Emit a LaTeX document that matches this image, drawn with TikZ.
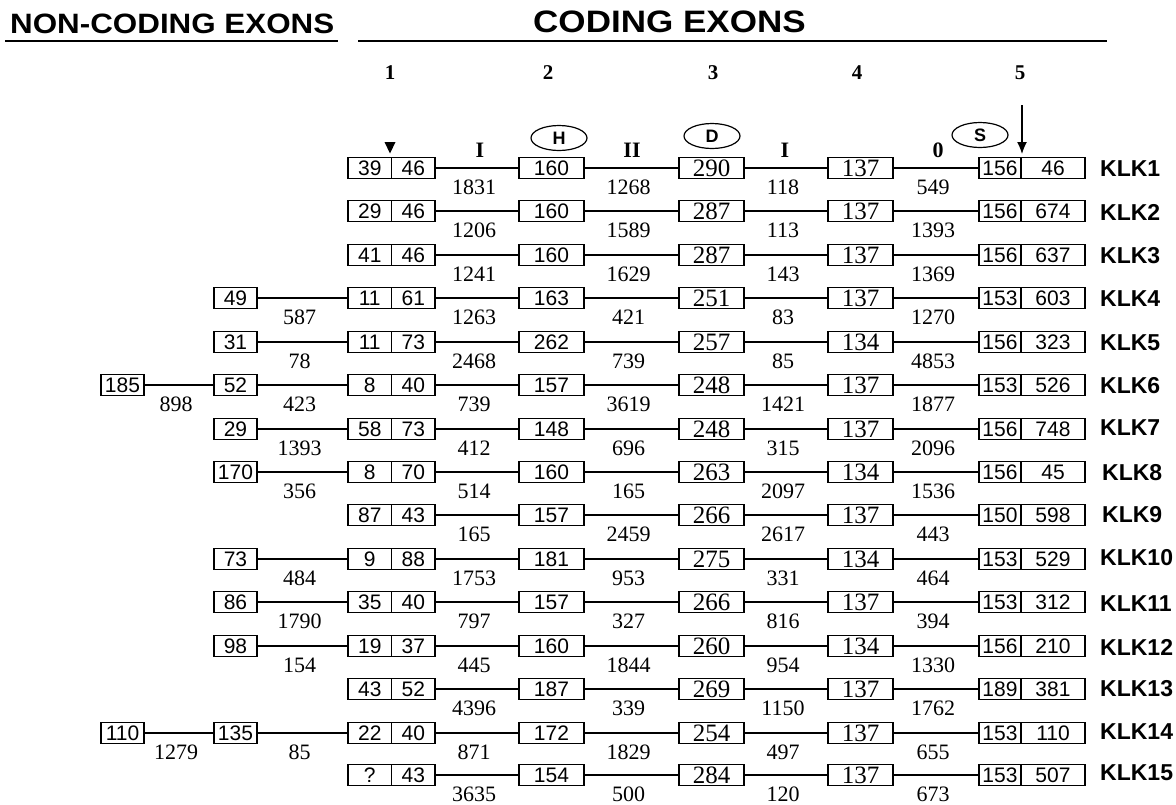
\documentclass[tikz,border=0pt]{standalone}
\usepackage{graphicx}
\usepackage{fontspec}
\setmainfont{Liberation Serif}
\setsansfont{Liberation Sans}
\usetikzlibrary{shapes.geometric,arrows.meta}

\newcommand{\exsffont}{\sffamily\fontsize{21}{21}\selectfont}
\newcommand{\exrmfont}{\rmfamily\fontsize{25}{25}\selectfont}
\newcommand{\intronfont}{\rmfamily\fontsize{22}{22}\selectfont}
\newcommand{\klkfont}{\sffamily\bfseries\fontsize{23}{23}\selectfont}
\newcommand{\colfont}{\rmfamily\bfseries\fontsize{21}{21}\selectfont}
\newcommand{\romfont}{\rmfamily\bfseries\fontsize{22}{22}\selectfont}
\newcommand{\motiffont}{\sffamily\bfseries\fontsize{18}{18}\selectfont}
\newcommand{\headfont}{\sffamily\bfseries\fontsize{28}{28}\selectfont}

\tikzset{
  exbox/.style={draw, line width=1.2pt, inner sep=0pt, minimum height=21pt, font=\exsffont},
  ncbox/.style={exbox, minimum width=43pt},
  halfbox/.style={exbox, minimum width=43.5pt},
  twobox/.style={exbox, minimum width=65pt},
  midbox/.style={exbox, minimum width=65pt, font=\exrmfont},
  fivea/.style={exbox, minimum width=42pt},
  fiveb/.style={exbox, minimum width=64pt},
  intronline/.style={line width=1.2pt},
  intron/.style={anchor=north, yshift=-11pt, xshift=-3pt, inner sep=0pt, font=\intronfont},
  klk/.style={anchor=west, inner sep=0pt, font=\klkfont},
  colnum/.style={inner sep=0pt, font=\colfont},
  phase/.style={inner sep=0pt, font=\romfont},
  motif/.style={draw, ellipse, line width=1.2pt, minimum width=56pt, minimum height=25pt, inner sep=0pt, font=\motiffont}
}

\begin{document}
\begin{tikzpicture}[x=1pt,y=-1pt]
\useasboundingbox (0,0) rectangle (1176,804);

% headings
\node[anchor=base west, inner sep=0pt, font=\headfont] (nchead) at (10,33) {\scalebox{1.12}[1]{NON-CODING EXONS}};
\node[anchor=base west, inner sep=0pt, font=\headfont\fontsize{31}{31}\selectfont] (chead) at (533,32) {\scalebox{1.13}[1]{CODING EXONS}};
\draw[line width=2pt] (5,41) -- (338,41);
\draw[line width=2pt] (358,41) -- (1107,41);

% exon numbers, phases, catalytic residues
\node[colnum] (col1) at (390,73) {1};
\node[colnum] (col2) at (548,73) {2};
\node[colnum] (col3) at (713,73) {3};
\node[colnum] (col4) at (857,73) {4};
\node[colnum] (col5) at (1020,73) {5};
\node[phase] (ph1) at (480,150) {I};
\node[phase] (ph2) at (632,150) {II};
\node[phase] (ph3) at (785,150) {I};
\node[phase] (ph4) at (938,150) {0};
\node[motif] (his) at (559,138) {H};
\node[motif] (asp) at (712,136) {D};
\node[motif] (ser) at (980,135) {S};
\fill (384.5,142) -- (395.5,142) -- (390,153.5) -- cycle;
\coordinate (stoptop) at (1022,105);
\coordinate (stoptip) at (1022,154);
\draw[line width=1.3pt, -{Latex[length=12pt,width=10pt]}] (stoptop) -- (stoptip);

% KLK1
\node[halfbox] (ex1a-1) at (369.75,168) {39};
\node[halfbox] (ex1b-1) at (413.25,168) {46};
\node[twobox] (ex2-1) at (551.5,168) {160};
\node[midbox] (ex3-1) at (711.5,168) {290};
\node[midbox] (ex4-1) at (860.5,168) {137};
\node[fivea] (ex5a-1) at (1000,168) {156};
\node[fiveb] (ex5b-1) at (1053,168) {46};
\node[klk] (klk1) at (1100,169) {KLK1};
\draw[intronline] (ex1b-1) -- node[intron] {1831} (ex2-1) (ex2-1) -- node[intron] {1268} (ex3-1) (ex3-1) -- node[intron] {118} (ex4-1) (ex4-1) -- node[intron] {549} (ex5a-1);

% KLK2
\node[halfbox] (ex1a-2) at (369.75,211) {29};
\node[halfbox] (ex1b-2) at (413.25,211) {46};
\node[twobox] (ex2-2) at (551.5,211) {160};
\node[midbox] (ex3-2) at (711.5,211) {287};
\node[midbox] (ex4-2) at (860.5,211) {137};
\node[fivea] (ex5a-2) at (1000,211) {156};
\node[fiveb] (ex5b-2) at (1053,211) {674};
\node[klk] (klk2) at (1100,212) {KLK2};
\draw[intronline] (ex1b-2) -- node[intron] {1206} (ex2-2) (ex2-2) -- node[intron] {1589} (ex3-2) (ex3-2) -- node[intron] {113} (ex4-2) (ex4-2) -- node[intron] {1393} (ex5a-2);

% KLK3
\node[halfbox] (ex1a-3) at (369.75,255) {41};
\node[halfbox] (ex1b-3) at (413.25,255) {46};
\node[twobox] (ex2-3) at (551.5,255) {160};
\node[midbox] (ex3-3) at (711.5,255) {287};
\node[midbox] (ex4-3) at (860.5,255) {137};
\node[fivea] (ex5a-3) at (1000,255) {156};
\node[fiveb] (ex5b-3) at (1053,255) {637};
\node[klk] (klk3) at (1100,256) {KLK3};
\draw[intronline] (ex1b-3) -- node[intron] {1241} (ex2-3) (ex2-3) -- node[intron] {1629} (ex3-3) (ex3-3) -- node[intron] {143} (ex4-3) (ex4-3) -- node[intron] {1369} (ex5a-3);

% KLK4
\node[ncbox] (nc2-4) at (235.5,298) {49};
\node[halfbox] (ex1a-4) at (369.75,298) {11};
\node[halfbox] (ex1b-4) at (413.25,298) {61};
\node[twobox] (ex2-4) at (551.5,298) {163};
\node[midbox] (ex3-4) at (711.5,298) {251};
\node[midbox] (ex4-4) at (860.5,298) {137};
\node[fivea] (ex5a-4) at (1000,298) {153};
\node[fiveb] (ex5b-4) at (1053,298) {603};
\node[klk] (klk4) at (1100,299) {KLK4};
\draw[intronline] (nc2-4) -- node[intron] {587} (ex1a-4) (ex1b-4) -- node[intron] {1263} (ex2-4) (ex2-4) -- node[intron] {421} (ex3-4) (ex3-4) -- node[intron] {83} (ex4-4) (ex4-4) -- node[intron] {1270} (ex5a-4);

% KLK5
\node[ncbox] (nc2-5) at (235.5,342) {31};
\node[halfbox] (ex1a-5) at (369.75,342) {11};
\node[halfbox] (ex1b-5) at (413.25,342) {73};
\node[twobox] (ex2-5) at (551.5,342) {262};
\node[midbox] (ex3-5) at (711.5,342) {257};
\node[midbox] (ex4-5) at (860.5,342) {134};
\node[fivea] (ex5a-5) at (1000,342) {156};
\node[fiveb] (ex5b-5) at (1053,342) {323};
\node[klk] (klk5) at (1100,343) {KLK5};
\draw[intronline] (nc2-5) -- node[intron] {78} (ex1a-5) (ex1b-5) -- node[intron] {2468} (ex2-5) (ex2-5) -- node[intron] {739} (ex3-5) (ex3-5) -- node[intron] {85} (ex4-5) (ex4-5) -- node[intron] {4853} (ex5a-5);

% KLK6
\node[ncbox] (nc1-6) at (122.5,385) {185};
\node[ncbox] (nc2-6) at (235.5,385) {52};
\node[halfbox] (ex1a-6) at (369.75,385) {8};
\node[halfbox] (ex1b-6) at (413.25,385) {40};
\node[twobox] (ex2-6) at (551.5,385) {157};
\node[midbox] (ex3-6) at (711.5,385) {248};
\node[midbox] (ex4-6) at (860.5,385) {137};
\node[fivea] (ex5a-6) at (1000,385) {153};
\node[fiveb] (ex5b-6) at (1053,385) {526};
\node[klk] (klk6) at (1100,386) {KLK6};
\draw[intronline] (nc1-6) -- node[intron] {898} (nc2-6) (nc2-6) -- node[intron] {423} (ex1a-6) (ex1b-6) -- node[intron] {739} (ex2-6) (ex2-6) -- node[intron] {3619} (ex3-6) (ex3-6) -- node[intron] {1421} (ex4-6) (ex4-6) -- node[intron] {1877} (ex5a-6);

% KLK7
\node[ncbox] (nc2-7) at (235.5,429) {29};
\node[halfbox] (ex1a-7) at (369.75,429) {58};
\node[halfbox] (ex1b-7) at (413.25,429) {73};
\node[twobox] (ex2-7) at (551.5,429) {148};
\node[midbox] (ex3-7) at (711.5,429) {248};
\node[midbox] (ex4-7) at (860.5,429) {137};
\node[fivea] (ex5a-7) at (1000,429) {156};
\node[fiveb] (ex5b-7) at (1053,429) {748};
\node[klk] (klk7) at (1100,428) {KLK7};
\draw[intronline] (nc2-7) -- node[intron] {1393} (ex1a-7) (ex1b-7) -- node[intron] {412} (ex2-7) (ex2-7) -- node[intron] {696} (ex3-7) (ex3-7) -- node[intron] {315} (ex4-7) (ex4-7) -- node[intron] {2096} (ex5a-7);

% KLK8
\node[ncbox] (nc2-8) at (235.5,472) {170};
\node[halfbox] (ex1a-8) at (369.75,472) {8};
\node[halfbox] (ex1b-8) at (413.25,472) {70};
\node[twobox] (ex2-8) at (551.5,472) {160};
\node[midbox] (ex3-8) at (711.5,472) {263};
\node[midbox] (ex4-8) at (860.5,472) {134};
\node[fivea] (ex5a-8) at (1000,472) {156};
\node[fiveb] (ex5b-8) at (1053,472) {45};
\node[klk] (klk8) at (1102,473) {KLK8};
\draw[intronline] (nc2-8) -- node[intron] {356} (ex1a-8) (ex1b-8) -- node[intron] {514} (ex2-8) (ex2-8) -- node[intron] {165} (ex3-8) (ex3-8) -- node[intron] {2097} (ex4-8) (ex4-8) -- node[intron] {1536} (ex5a-8);

% KLK9
\node[halfbox] (ex1a-9) at (369.75,515) {87};
\node[halfbox] (ex1b-9) at (413.25,515) {43};
\node[twobox] (ex2-9) at (551.5,515) {157};
\node[midbox] (ex3-9) at (711.5,515) {266};
\node[midbox] (ex4-9) at (860.5,515) {137};
\node[fivea] (ex5a-9) at (1000,515) {150};
\node[fiveb] (ex5b-9) at (1053,515) {598};
\node[klk] (klk9) at (1102,515) {KLK9};
\draw[intronline] (ex1b-9) -- node[intron] {165} (ex2-9) (ex2-9) -- node[intron] {2459} (ex3-9) (ex3-9) -- node[intron] {2617} (ex4-9) (ex4-9) -- node[intron] {443} (ex5a-9);

% KLK10
\node[ncbox] (nc2-10) at (235.5,559) {73};
\node[halfbox] (ex1a-10) at (369.75,559) {9};
\node[halfbox] (ex1b-10) at (413.25,559) {88};
\node[twobox] (ex2-10) at (551.5,559) {181};
\node[midbox] (ex3-10) at (711.5,559) {275};
\node[midbox] (ex4-10) at (860.5,559) {134};
\node[fivea] (ex5a-10) at (1000,559) {153};
\node[fiveb] (ex5b-10) at (1053,559) {529};
\node[klk] (klk10) at (1100,558) {KLK10};
\draw[intronline] (nc2-10) -- node[intron] {484} (ex1a-10) (ex1b-10) -- node[intron] {1753} (ex2-10) (ex2-10) -- node[intron] {953} (ex3-10) (ex3-10) -- node[intron] {331} (ex4-10) (ex4-10) -- node[intron] {464} (ex5a-10);

% KLK11
\node[ncbox] (nc2-11) at (235.5,602) {86};
\node[halfbox] (ex1a-11) at (369.75,602) {35};
\node[halfbox] (ex1b-11) at (413.25,602) {40};
\node[twobox] (ex2-11) at (551.5,602) {157};
\node[midbox] (ex3-11) at (711.5,602) {266};
\node[midbox] (ex4-11) at (860.5,602) {137};
\node[fivea] (ex5a-11) at (1000,602) {153};
\node[fiveb] (ex5b-11) at (1053,602) {312};
\node[klk] (klk11) at (1100,604) {KLK11};
\draw[intronline] (nc2-11) -- node[intron] {1790} (ex1a-11) (ex1b-11) -- node[intron] {797} (ex2-11) (ex2-11) -- node[intron] {327} (ex3-11) (ex3-11) -- node[intron] {816} (ex4-11) (ex4-11) -- node[intron] {394} (ex5a-11);

% KLK12
\node[ncbox] (nc2-12) at (235.5,646) {98};
\node[halfbox] (ex1a-12) at (369.75,646) {19};
\node[halfbox] (ex1b-12) at (413.25,646) {37};
\node[twobox] (ex2-12) at (551.5,646) {160};
\node[midbox] (ex3-12) at (711.5,646) {260};
\node[midbox] (ex4-12) at (860.5,646) {134};
\node[fivea] (ex5a-12) at (1000,646) {156};
\node[fiveb] (ex5b-12) at (1053,646) {210};
\node[klk] (klk12) at (1100,647) {KLK12};
\draw[intronline] (nc2-12) -- node[intron] {154} (ex1a-12) (ex1b-12) -- node[intron] {445} (ex2-12) (ex2-12) -- node[intron] {1844} (ex3-12) (ex3-12) -- node[intron] {954} (ex4-12) (ex4-12) -- node[intron] {1330} (ex5a-12);

% KLK13
\node[halfbox] (ex1a-13) at (369.75,689) {43};
\node[halfbox] (ex1b-13) at (413.25,689) {52};
\node[twobox] (ex2-13) at (551.5,689) {187};
\node[midbox] (ex3-13) at (711.5,689) {269};
\node[midbox] (ex4-13) at (860.5,689) {137};
\node[fivea] (ex5a-13) at (1000,689) {189};
\node[fiveb] (ex5b-13) at (1053,689) {381};
\node[klk] (klk13) at (1100,689) {KLK13};
\draw[intronline] (ex1b-13) -- node[intron] {4396} (ex2-13) (ex2-13) -- node[intron] {339} (ex3-13) (ex3-13) -- node[intron] {1150} (ex4-13) (ex4-13) -- node[intron] {1762} (ex5a-13);

% KLK14
\node[ncbox] (nc1-14) at (122.5,733) {110};
\node[ncbox] (nc2-14) at (235.5,733) {135};
\node[halfbox] (ex1a-14) at (369.75,733) {22};
\node[halfbox] (ex1b-14) at (413.25,733) {40};
\node[twobox] (ex2-14) at (551.5,733) {172};
\node[midbox] (ex3-14) at (711.5,733) {254};
\node[midbox] (ex4-14) at (860.5,733) {137};
\node[fivea] (ex5a-14) at (1000,733) {153};
\node[fiveb] (ex5b-14) at (1053,733) {110};
\node[klk] (klk14) at (1100,732) {KLK14};
\draw[intronline] (nc1-14) -- node[intron] {1279} (nc2-14) (nc2-14) -- node[intron] {85} (ex1a-14) (ex1b-14) -- node[intron] {871} (ex2-14) (ex2-14) -- node[intron] {1829} (ex3-14) (ex3-14) -- node[intron] {497} (ex4-14) (ex4-14) -- node[intron] {655} (ex5a-14);

% KLK15
\node[halfbox] (ex1a-15) at (369.75,775) {?};
\node[halfbox] (ex1b-15) at (413.25,775) {43};
\node[twobox] (ex2-15) at (551.5,775) {154};
\node[midbox] (ex3-15) at (711.5,775) {284};
\node[midbox] (ex4-15) at (860.5,775) {137};
\node[fivea] (ex5a-15) at (1000,775) {153};
\node[fiveb] (ex5b-15) at (1053,775) {507};
\node[klk] (klk15) at (1100,773) {KLK15};
\draw[intronline] (ex1b-15) -- node[intron] {3635} (ex2-15) (ex2-15) -- node[intron] {500} (ex3-15) (ex3-15) -- node[intron] {120} (ex4-15) (ex4-15) -- node[intron] {673} (ex5a-15);

\end{tikzpicture}
\end{document}
